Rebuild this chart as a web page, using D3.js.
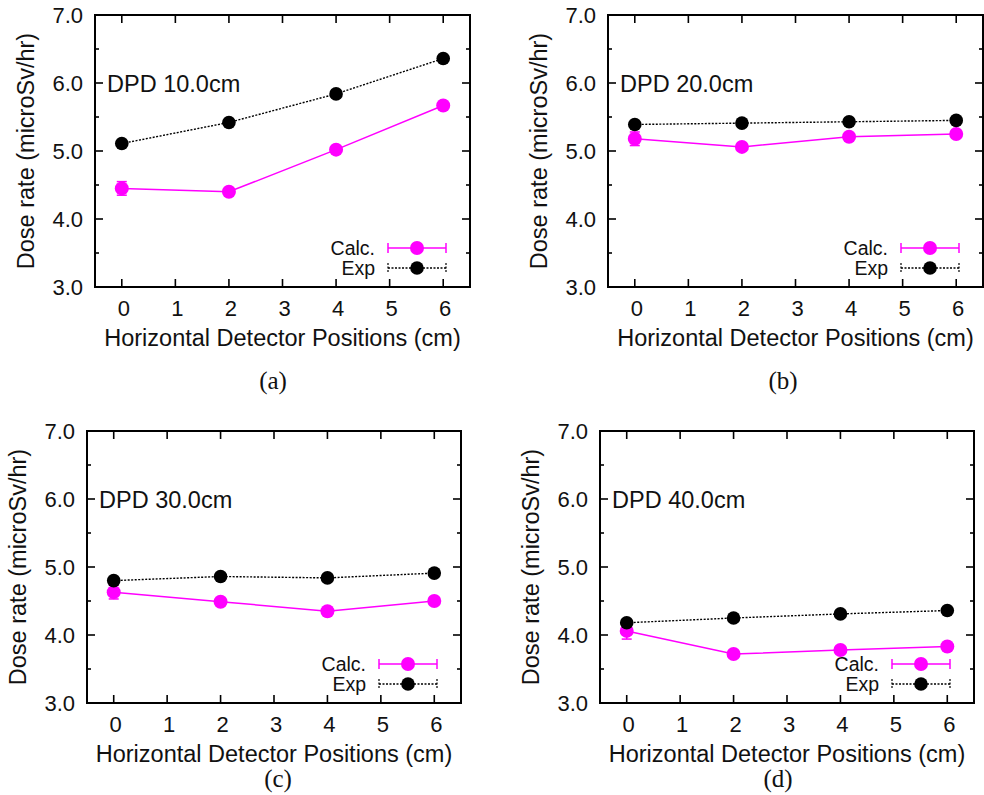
<!DOCTYPE html>
<html>
<head>
<meta charset="utf-8">
<script src="https://cdn.jsdelivr.net/npm/d3@7"></script>
<style>
  body { margin: 0; background: #fff; }
  svg { display: block; }
  text { font-family: "Liberation Sans", Arial, sans-serif; fill: #111; }
</style>
</head>
<body>
<script>
// detector positions (cm)
const positions = [0, 2, 4, 6];
const xTicks = [0, 1, 2, 3, 4, 5, 6];
const yTicks = [3.0, 3.5, 4.0, 4.5, 5.0, 5.5, 6.0, 6.5, 7.0];
const yLabels = ["3.0", "4.0", "5.0", "6.0", "7.0"];

const dpdLabels = ["DPD 10.0cm", "DPD 20.0cm", "DPD 30.0cm", "DPD 40.0cm"];
const panelTags = ["(a)", "(b)", "(c)", "(d)"];

// dose rates (microSv/hr)
const exp10 = [5.11, 5.42, 5.84, 6.36];
const calc10 = [4.45, 4.40, 5.02, 5.67];
const calcErr10 = [0.10, 0.04, 0.04, 0.04];

const exp20 = [5.39, 5.41, 5.43, 5.45];
const calc20 = [5.18, 5.06, 5.21, 5.25];
const calcErr20 = [0.10, 0.04, 0.04, 0.04];

const exp30 = [4.80, 4.86, 4.84, 4.91];
const calc30 = [4.63, 4.49, 4.35, 4.50];
const calcErr30 = [0.10, 0.04, 0.04, 0.04];

const exp40 = [4.18, 4.25, 4.31, 4.36];
const calc40 = [4.06, 3.72, 3.78, 3.83];
const calcErr40 = [0.12, 0.04, 0.04, 0.04];

const expSeries = [exp10, exp20, exp30, exp40];
const calcSeries = [calc10, calc20, calc30, calc40];
const errSeries = [calcErr10, calcErr20, calcErr30, calcErr40];

// panel frames (page layout)
const frames = [
    { left: 95, right: 470, top: 15, bottom: 287, tagX: 273, tagY: 380 },
    { left: 608, right: 983, top: 15, bottom: 287, tagX: 783, tagY: 380 },
    { left: 87, right: 461, top: 431, bottom: 703, tagX: 278, tagY: 778 },
    { left: 600, right: 974, top: 431, bottom: 703, tagX: 778, tagY: 778 }
];

const magenta = "#ff00ff";

const svg = d3.select("body").append("svg")
    .attr("width", 984)
    .attr("height", 795);

frames.forEach((f, i) => {
    const x = d3.scaleLinear().domain([-0.5, 6.5]).range([f.left, f.right]);
    const y = d3.scaleLinear().domain([3, 7]).range([f.bottom, f.top]);
    const g = svg.append("g");

    // inward ticks on all four sides
    const major = v => Math.abs(v - Math.round(v)) < 1e-6;
    g.selectAll("line.ytl").data(yTicks).enter().append("line")
        .attr("x1", f.left).attr("x2", d => f.left + (major(d) ? 8 : 4))
        .attr("y1", d => y(d)).attr("y2", d => y(d))
        .attr("stroke", "#000").attr("stroke-width", 1.6);
    g.selectAll("line.ytr").data(yTicks).enter().append("line")
        .attr("x1", f.right).attr("x2", d => f.right - (major(d) ? 8 : 4))
        .attr("y1", d => y(d)).attr("y2", d => y(d))
        .attr("stroke", "#000").attr("stroke-width", 1.6);
    g.selectAll("line.xtb").data(xTicks).enter().append("line")
        .attr("x1", d => x(d)).attr("x2", d => x(d))
        .attr("y1", f.bottom).attr("y2", f.bottom - 8)
        .attr("stroke", "#000").attr("stroke-width", 1.6);
    g.selectAll("line.xtt").data(xTicks).enter().append("line")
        .attr("x1", d => x(d)).attr("x2", d => x(d))
        .attr("y1", f.top).attr("y2", f.top + 8)
        .attr("stroke", "#000").attr("stroke-width", 1.6);

    // frame
    g.append("rect")
        .attr("x", f.left).attr("y", f.top)
        .attr("width", f.right - f.left).attr("height", f.bottom - f.top)
        .attr("fill", "none").attr("stroke", "#000").attr("stroke-width", 2);

    // tick labels
    g.selectAll("text.yl").data(yLabels).enter().append("text")
        .attr("x", f.left - 12).attr("y", d => y(+d))
        .attr("dy", "0.36em").attr("text-anchor", "end")
        .style("font-size", "22px")
        .text(d => d);
    g.selectAll("text.xl").data(xTicks).enter().append("text")
        .attr("x", d => x(d) + 2).attr("y", f.bottom + 21)
        .attr("dy", "0.36em").attr("text-anchor", "middle")
        .style("font-size", "22px")
        .text(d => d);

    // axis titles
    g.append("text")
        .attr("x", (f.left + f.right) / 2).attr("y", f.bottom + 51)
        .attr("dy", "0.36em").attr("text-anchor", "middle")
        .style("font-size", "23.5px")
        .text("Horizontal Detector Positions (cm)");
    g.append("text")
        .attr("transform", `translate(${f.left - 69},${(f.top + f.bottom) / 2}) rotate(-90)`)
        .attr("dy", "0.36em").attr("text-anchor", "middle")
        .style("font-size", "23.5px")
        .text("Dose rate (microSv/hr)");

    // DPD label
    g.append("text")
        .attr("x", f.left + 12).attr("y", f.top + 69)
        .attr("dy", "0.36em")
        .style("font-size", "23.5px")
        .text(dpdLabels[i]);

    // panel tag
    g.append("text")
        .attr("x", f.tagX).attr("y", f.tagY)
        .attr("dy", "0.36em").attr("text-anchor", "middle")
        .style("font-family", "'Liberation Serif', 'Times New Roman', serif")
        .style("font-size", "25px")
        .text(panelTags[i]);

    const line = d3.line().x((d, k) => x(positions[k])).y(d => y(d));
    const calc = calcSeries[i], exp = expSeries[i], err = errSeries[i];

    // Calc. series: line, error bars, markers
    g.append("path").datum(calc)
        .attr("d", line).attr("fill", "none")
        .attr("stroke", magenta).attr("stroke-width", 1.5);
    const eb = g.selectAll("g.eb").data(calc).enter().append("g");
    eb.append("line")
        .attr("x1", (d, k) => x(positions[k])).attr("x2", (d, k) => x(positions[k]))
        .attr("y1", (d, k) => y(d - err[k])).attr("y2", (d, k) => y(d + err[k]))
        .attr("stroke", magenta).attr("stroke-width", 1.5);
    [-1, 1].forEach(s => {
        eb.append("line")
            .attr("x1", (d, k) => x(positions[k]) - 5).attr("x2", (d, k) => x(positions[k]) + 5)
            .attr("y1", (d, k) => y(d + s * err[k])).attr("y2", (d, k) => y(d + s * err[k]))
            .attr("stroke", magenta).attr("stroke-width", 1.5);
    });
    g.selectAll("circle.calc").data(calc).enter().append("circle")
        .attr("cx", (d, k) => x(positions[k])).attr("cy", d => y(d))
        .attr("r", 7).attr("fill", magenta);

    // Exp series
    g.append("path").datum(exp)
        .attr("d", line).attr("fill", "none")
        .attr("stroke", "#000").attr("stroke-width", 1.4)
        .attr("stroke-dasharray", "2,1.5");
    g.selectAll("circle.exp").data(exp).enter().append("circle")
        .attr("cx", (d, k) => x(positions[k])).attr("cy", d => y(d))
        .attr("r", 6.8).attr("fill", "#000");

    // legend
    const lx0 = f.right - 82, lx1 = f.right - 24, lm = f.right - 53;
    const ly1 = f.bottom - 39, ly2 = f.bottom - 19;
    g.append("text").attr("x", f.right - 95).attr("y", ly1).attr("dy", "0.36em")
        .attr("text-anchor", "end").style("font-size", "19.5px").text("Calc.");
    g.append("text").attr("x", f.right - 95).attr("y", ly2).attr("dy", "0.36em")
        .attr("text-anchor", "end").style("font-size", "19.5px").text("Exp");
    g.append("line").attr("x1", lx0).attr("x2", lx1).attr("y1", ly1).attr("y2", ly1)
        .attr("stroke", magenta).attr("stroke-width", 1.5);
    [lx0, lx1].forEach(cx => {
        g.append("line").attr("x1", cx).attr("x2", cx).attr("y1", ly1 - 5).attr("y2", ly1 + 5)
            .attr("stroke", magenta).attr("stroke-width", 1.5);
        g.append("line").attr("x1", cx).attr("x2", cx).attr("y1", ly2 - 5).attr("y2", ly2 + 5)
            .attr("stroke", "#000").attr("stroke-width", 1.2).attr("stroke-dasharray", "2,1.5");
    });
    g.append("circle").attr("cx", lm).attr("cy", ly1).attr("r", 7).attr("fill", magenta);
    g.append("line").attr("x1", lx0).attr("x2", lx1).attr("y1", ly2).attr("y2", ly2)
        .attr("stroke", "#000").attr("stroke-width", 1.4).attr("stroke-dasharray", "2,1.5");
    g.append("circle").attr("cx", lm).attr("cy", ly2).attr("r", 6.8).attr("fill", "#000");
});
</script>
</body>
</html>
